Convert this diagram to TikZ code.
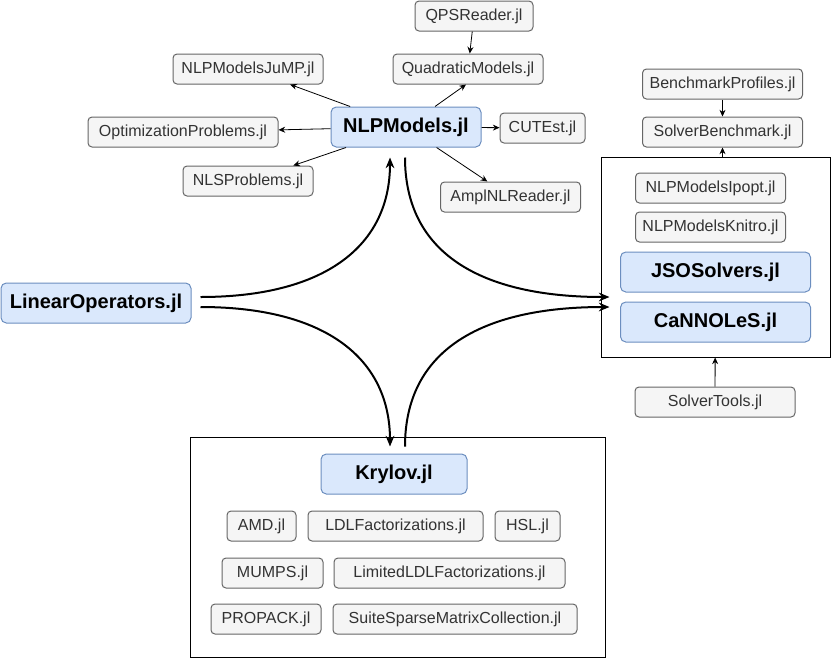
\documentclass[tikz,border=0pt]{standalone}
\usepackage{fontspec}
\setmainfont{Liberation Sans}
\usepackage{tikz}
\usetikzlibrary{arrows.meta}
\definecolor{pkgfill}{HTML}{F5F5F5}
\definecolor{pkgline}{HTML}{666666}
\definecolor{pkgtext}{HTML}{333333}
\definecolor{corefill}{HTML}{DAE8FC}
\definecolor{coreline}{HTML}{6C8EBF}

\begin{document}
\begin{tikzpicture}[
    x=0.75pt, y=-0.75pt,
    pkg/.style={rectangle, draw=pkgline, fill=pkgfill, line width=0.75pt, rounded corners=3pt, minimum height=22.5pt, inner sep=0pt, text=pkgtext, font=\fontsize{12}{14}\selectfont},
    core/.style={rectangle, draw=coreline, fill=corefill, line width=0.75pt, rounded corners=4pt, minimum height=30pt, inner sep=0pt, font=\fontsize{15}{18}\selectfont\bfseries},
    group/.style={rectangle, draw=black, line width=0.75pt, inner sep=0pt},
    arrow/.style={-{Stealth[length=5pt, width=4.5pt]}, line width=0.6pt},
    flow/.style={-{Stealth[length=8pt, width=6.5pt]}, line width=1.5pt}
]
    \useasboundingbox (0,0) rectangle (831,658);

    % Containers
    \node (solvers) [group, minimum width=171.75pt, minimum height=150pt] at (715.5,257) {};
    \node (kbox) [group, minimum width=311.25pt, minimum height=165pt] at (397.5,547) {};

    % NLPModels and friends
    \node (nlp) [core, minimum width=112.5pt] at (406,127) {NLPModels.jl};
    \node (qps) [pkg, minimum width=88.5pt] at (474,16) {QPSReader.jl};
    \node (quad) [pkg, minimum width=112.5pt] at (468,69) {QuadraticModels.jl};
    \node (jump) [pkg, minimum width=112.5pt] at (248,69) {NLPModelsJuMP.jl};
    \node (optprob) [pkg, minimum width=142.5pt] at (183,132) {OptimizationProblems.jl};
    \node (cutest) [pkg, minimum width=63.75pt] at (542.5,128) {CUTEst.jl};
    \node (nls) [pkg, minimum width=97.5pt] at (248,181) {NLSProblems.jl};
    \node (ampl) [pkg, minimum width=105pt] at (510.5,197) {AmplNLReader.jl};

    % Solvers
    \node (profiles) [pkg, minimum width=120pt] at (722.5,84) {BenchmarkProfiles.jl};
    \node (bench) [pkg, minimum width=120pt] at (722.5,132) {SolverBenchmark.jl};
    \node (ipopt) [pkg, minimum width=112.5pt] at (710.5,188) {NLPModelsIpopt.jl};
    \node (knitro) [pkg, minimum width=112.5pt] at (710.5,227) {NLPModelsKnitro.jl};
    \node (jso) [core, minimum width=142.5pt] at (715.5,272) {JSOSolvers.jl};
    \node (cannoles) [core, minimum width=142.5pt] at (715.5,322) {CaNNOLeS.jl};
    \node (tools) [pkg, minimum width=120pt] at (715,402) {SolverTools.jl};

    % Linear algebra
    \node (linop) [core, minimum width=142.5pt] at (96,303) {LinearOperators.jl};
    \node (krylov) [core, minimum width=109.5pt] at (394,474) {Krylov.jl};
    \node (amd) [pkg, minimum width=51.75pt] at (261.5,526) {AMD.jl};
    \node (ldl) [pkg, minimum width=131.25pt] at (395.5,526) {LDLFactorizations.jl};
    \node (hsl) [pkg, minimum width=48.75pt] at (527.5,526) {HSL.jl};
    \node (mumps) [pkg, minimum width=75.75pt] at (272.5,573) {MUMPS.jl};
    \node (limldl) [pkg, minimum width=173.25pt] at (449.5,573) {LimitedLDLFactorizations.jl};
    \node (propack) [pkg, minimum width=82.5pt] at (266,619) {PROPACK.jl};
    \node (suite) [pkg, minimum width=183pt] at (455,619) {SuiteSparseMatrixCollection.jl};

    % Connections
    \draw [arrow] (qps) -- (quad);
    \draw [arrow] ([shift={(29,0)}]nlp.north) -- ([shift={(-2,0)}]quad.south);
    \draw [arrow] (nlp) -- (jump);
    \draw [arrow] (nlp) -- (optprob);
    \draw [arrow] (nlp) -- (cutest);
    \draw [arrow] (nlp) -- (nls);
    \draw [arrow] (nlp) -- (ampl);

    \draw [arrow] (profiles) -- (bench);
    \draw [arrow] (solvers.north -| bench) -- (bench.south);
    \draw [arrow] (tools) -- (solvers);

    % Curved flows
    \draw [flow] ([shift={(9,-6)}]linop.east) .. controls +(125,0) and +(0,88) .. ([shift={(-16,10)}]nlp.south);
    \draw [flow] ([shift={(-1,10)}]nlp.south) .. controls +(0,95) and +(-130,0) .. ([shift={(9,40)}]solvers.west);
    \draw [flow] ([shift={(9,4)}]linop.east) .. controls +(125,0) and +(0,-88) .. ([shift={(-7.5,10)}]kbox.north);
    \draw [flow] ([shift={(7.5,10)}]kbox.north) .. controls +(0,-95) and +(-130,0) .. ([shift={(9,50)}]solvers.west);
\end{tikzpicture}
\end{document}
